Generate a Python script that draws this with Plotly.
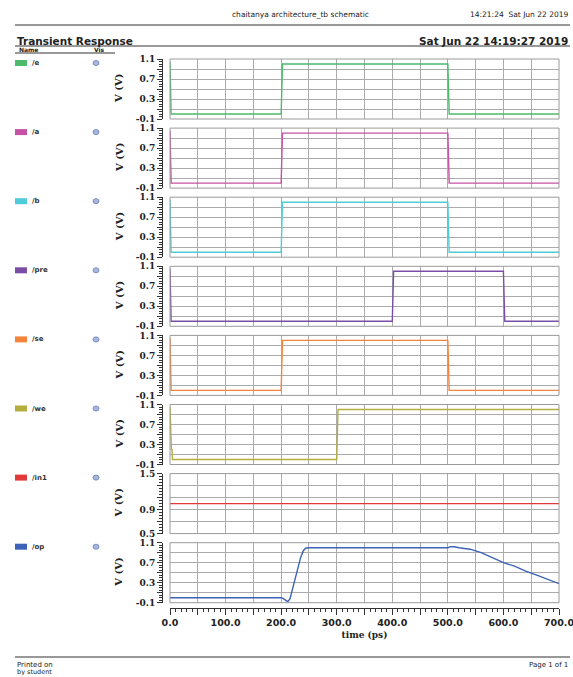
import plotly.graph_objects as go

W, H = 573, 677

# ---- signal data (time in ps, voltage in V) ----
names = ["/e", "/a", "/b", "/pre", "/se", "/we", "/in1", "/op"]
colors = ["#4cbb6c", "#c552a2", "#4fcbd9", "#7a4ea6", "#f4843a", "#b3ae3e", "#e03a3a", "#3c63b8"]

e_t = [0, 0.4, 1.5, 2.0, 200, 200.8, 201.6, 202.4, 500, 500.8, 501.6, 502.4, 700]
e_v = [1.05, 0.57, 0.57, 0.0, 0.0, 0.5, 0.57, 1.0, 1.0, 0.57, 0.5, 0.0, 0.0]

a_t = [0, 0.4, 1.5, 2.0, 200, 200.8, 201.6, 202.4, 500, 500.8, 501.6, 502.4, 700]
a_v = [1.05, 0.57, 0.57, 0.0, 0.0, 0.5, 0.57, 1.0, 1.0, 0.57, 0.5, 0.0, 0.0]

b_t = [0, 0.4, 1.5, 2.0, 200, 200.8, 201.6, 202.4, 500, 500.8, 501.6, 502.4, 700]
b_v = [1.05, 0.57, 0.57, 0.0, 0.0, 0.5, 0.57, 1.0, 1.0, 0.57, 0.5, 0.0, 0.0]

pre_t = [0, 0.4, 1.5, 2.0, 400, 400.8, 401.6, 402.4, 600, 600.8, 601.6, 602.4, 700]
pre_v = [1.05, 0.57, 0.57, 0.0, 0.0, 0.5, 0.57, 1.0, 1.0, 0.57, 0.5, 0.0, 0.0]

se_t = [0, 0.4, 1.5, 2.0, 200, 200.8, 201.6, 202.4, 500, 500.8, 501.6, 502.4, 700]
se_v = [1.05, 0.57, 0.57, 0.0, 0.0, 0.5, 0.57, 1.0, 1.0, 0.57, 0.5, 0.0, 0.0]

we_t = [0, 0.5, 1.5, 2.5, 3.5, 4.5, 300, 300.8, 301.6, 302.4, 700]
we_v = [1.05, 0.75, 0.75, 0.2, 0.2, 0.0, 0.0, 0.5, 0.57, 1.0, 1.0]

in1_t = [0, 700]
in1_v = [1.0, 1.0]

op_t = [0, 100, 200, 204, 208, 212, 216, 220, 225, 230, 235, 240, 244, 250, 300, 400,
        500, 505, 512, 520, 540, 560, 580, 600, 620, 640, 660, 680, 700]
op_v = [0.0, 0.0, 0.0, -0.02, -0.05, -0.08, -0.02, 0.15, 0.38, 0.6, 0.8, 0.94, 0.99, 1.0, 1.0, 1.0,
        1.0, 1.02, 1.02, 1.0, 0.97, 0.9, 0.8, 0.7, 0.63, 0.53, 0.45, 0.37, 0.28]

series_t = [e_t, a_t, b_t, pre_t, se_t, we_t, in1_t, op_t]
series_v = [e_v, a_v, b_v, pre_v, se_v, we_v, in1_v, op_v]

# axis ranges / labelled ticks per panel
std_range = [-0.1, 1.1]
std_labels = [-0.1, 0.3, 0.7, 1.1]
in1_range = [0.5, 1.5]
in1_labels = [0.5, 0.9, 1.5]
x_range = [0, 700]
x_labels = [0, 100, 200, 300, 400, 500, 600, 700]

# ---- page geometry helpers ----
def px(x):
    return x / W

def py(y):
    return 1 - y / H

def ref(letter, k):
    return letter if k == 1 else f"{letter}{k}"

PLOT_L, PLOT_R = 170, 559
TOP0, PITCH, PH = 59, 69.1, 60
GRID = "#ababab"
FRAME = "#9a9a9a"
INK = "#333"
SERIF = "DejaVu Serif"
SANS = "DejaVu Sans"

fig = go.Figure()
layout = dict(
    width=W, height=H, margin=dict(l=0, r=0, t=0, b=0, autoexpand=False),
    paper_bgcolor="white", plot_bgcolor="white", showlegend=False,
)

annotations = []
shapes = []

for i in range(8):
    k = i + 1
    top = TOP0 + i * PITCH
    bot = top + PH
    rng = in1_range if names[i] == "/in1" else std_range
    labels = in1_labels if names[i] == "/in1" else std_labels
    last = (k == 8)

    fig.add_trace(go.Scatter(
        x=series_t[i], y=series_v[i], mode="lines",
        line=dict(color=colors[i], width=1.4),
        xaxis=ref("x", k), yaxis=ref("y", k), hoverinfo="skip",
    ))

    # time axis: grid every 50 ps; the bottom panel carries the labelled ruler
    xax = dict(
        domain=[px(PLOT_L), px(PLOT_R)], range=x_range, automargin=False,
        showgrid=True, gridcolor=GRID, gridwidth=1, zeroline=False,
    )
    if last:
        xtv = list(range(0, 701, 50))
        xtt = [(f"{v:.1f}" if v in x_labels else "") for v in xtv]
        xax.update(
            anchor="free", position=py(608), side="bottom",
            tickmode="array", tickvals=xtv, ticktext=xtt,
            ticklabeloverflow="allow",
            ticks="outside", ticklen=6, tickwidth=1, tickcolor=INK,
            showline=True, linecolor=INK, linewidth=1,
            minor=dict(ticks="outside", ticklen=3, tickmode="linear", tick0=0,
                       dtick=10, tickcolor=INK, tickwidth=1, showgrid=False),
            tickfont=dict(family=SANS, size=9.5, color="#222", weight="bold"),
            title=dict(text="time (ps)", standoff=4,
                       font=dict(family=SERIF, size=9, color="#222", weight="bold")),
        )
    else:
        xax.update(anchor=ref("y", k), tick0=0, dtick=50, ticks="",
                   showticklabels=False, showline=False)
    layout[f"xaxis{k}"] = xax

    # voltage axis: grid every 0.2 V, ruler set slightly left of the frame
    n_steps = int(round((rng[1] - rng[0]) / 0.2))
    tv = [round(rng[0] + j * 0.2, 2) for j in range(n_steps + 1)]
    tt = [(f"{v:.1f}" if any(abs(v - l) < 1e-6 for l in labels) else "") for v in tv]
    layout[f"yaxis{k}"] = dict(
        domain=[py(bot), py(top)], range=rng, automargin=False,
        anchor="free", position=px(162), side="left",
        showgrid=True, gridcolor=GRID, gridwidth=1, zeroline=False,
        tickmode="array", tickvals=tv, ticktext=tt,
        ticks="outside", ticklen=5, tickwidth=1, tickcolor=INK,
        showline=True, linecolor=INK, linewidth=1,
        minor=dict(ticks="outside", ticklen=3, tickmode="linear", tick0=rng[0],
                   dtick=0.05, tickcolor=INK, tickwidth=1, showgrid=False),
        tickfont=dict(family=SERIF, size=9, color="#222", weight="bold"),
    )

    # plot frame
    shapes.append(dict(type="rect", xref=ref("x", k) + " domain", yref=ref("y", k) + " domain",
                       x0=0, x1=1, y0=0, y1=1, line=dict(color=FRAME, width=1),
                       fillcolor="rgba(0,0,0,0)", layer="above"))

    annotations.append(dict(
        x=px(119), y=py((top + bot) / 2), xref="paper", yref="paper",
        text="V (V)", textangle=-90, showarrow=False,
        font=dict(family=SERIF, size=10, color="#222", weight="bold"),
        xanchor="center", yanchor="middle",
    ))

    # signal list entries on the left
    ly = top + 4
    shapes.append(dict(type="rect", xref="paper", yref="paper",
                       x0=px(15), x1=px(27), y0=py(ly + 3), y1=py(ly - 3),
                       fillcolor=colors[i], line=dict(width=0)))
    annotations.append(dict(
        x=px(30), y=py(ly), xref="paper", yref="paper", text=names[i],
        showarrow=False, xanchor="left", yanchor="middle",
        font=dict(family=SANS, size=7, color="#333", weight="bold"),
    ))
    shapes.append(dict(type="circle", xref="paper", yref="paper",
                       x0=px(93), x1=px(99), y0=py(ly + 2.5), y1=py(ly - 2.5),
                       fillcolor="#a9b6dc", line=dict(color="#7d8fc4", width=1)))

# page header / footer text
def text(x, y, s, size, anchor="left", bold=False):
    annotations.append(dict(
        x=px(x), y=py(y), xref="paper", yref="paper", text=s, showarrow=False,
        xanchor=anchor, yanchor="middle",
        font=dict(family=SANS, size=size, color="#222",
                  weight="bold" if bold else "normal"),
    ))

text(300, 14, "chaitanya architecture_tb schematic", 7.5, "center")
text(570, 14, "14:21:24  Sat Jun 22 2019", 7.5, "right")
text(15, 41, "Transient Response", 10.5, "left", True)
text(570, 41, "Sat Jun 22 14:19:27 2019", 10.5, "right", True)
text(17, 49.5, "Name", 6, "left", True)
text(92, 49.5, "Vis", 6, "left", True)
text(15, 665, "Printed on", 7, "left")
text(15, 672, "by student", 6.5, "left")
text(570, 665, "Page 1 of 1", 7, "right")

for (x0, x1, y) in [(15, 570, 25), (15, 570, 46), (15, 115, 53), (15, 570, 657)]:
    shapes.append(dict(type="line", xref="paper", yref="paper",
                       x0=px(x0), x1=px(x1), y0=py(y), y1=py(y),
                       line=dict(color="#333", width=1)))

layout["annotations"] = annotations
layout["shapes"] = shapes
fig.update_layout(**layout)

fig.write_html("out.html")
